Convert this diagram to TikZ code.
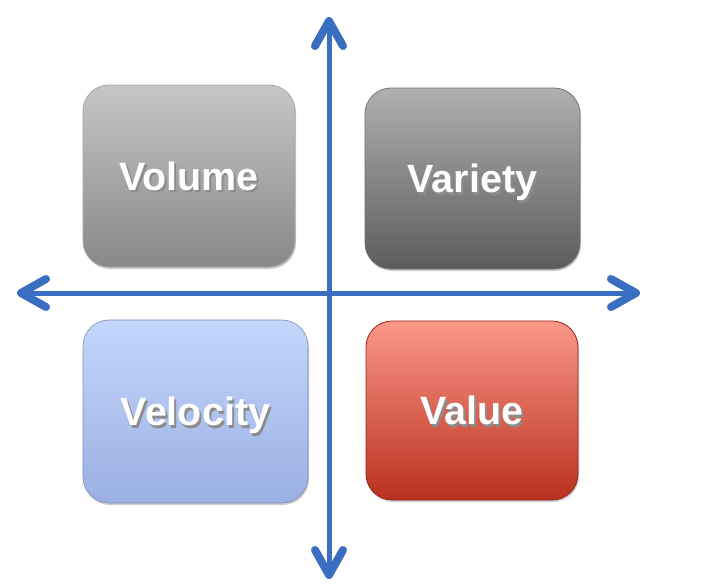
\documentclass[tikz,border=0pt]{standalone}
\usepackage{fontspec}
\setmainfont{Liberation Sans}
\usetikzlibrary{calc,shadows}
\definecolor{axisblue}{RGB}{58,110,192}
\definecolor{volTop}{RGB}{198,198,200}
\definecolor{volBot}{RGB}{136,136,138}
\definecolor{varTop}{RGB}{176,176,176}
\definecolor{varBot}{RGB}{92,92,94}
\definecolor{velTop}{RGB}{196,214,252}
\definecolor{velBot}{RGB}{154,176,226}
\definecolor{valTop}{RGB}{250,152,136}
\definecolor{valBot}{RGB}{186,48,30}
\newcommand{\shtext}[1]{\makebox[0pt][l]{\hspace{2pt}\raisebox{-2.5pt}{\textcolor{black!45}{#1}}}\textcolor{white}{#1}}
\tikzset{
  quad/.style={rectangle, rounded corners=26pt, inner sep=0pt,
    text height=28pt, text depth=0pt,
    font=\fontsize{39.5}{42}\selectfont\bfseries,
    drop shadow={shadow xshift=1pt, shadow yshift=-2pt, opacity=0.2, fill=black}},
  axisline/.style={draw=axisblue, line width=5pt},
  chevron/.style={draw=axisblue, line width=8pt, line cap=round, line join=round}
}
\begin{document}
\begin{tikzpicture}[x=1pt,y=-1pt]
\useasboundingbox[fill=white] (0,0) rectangle (701,587);
\node[quad, minimum width=212pt, minimum height=182pt, top color=volTop, bottom color=volBot, draw=black!35, line width=0.8pt] (volume) at (189,176) {\shtext{Volume}};
\node[quad, minimum width=215pt, minimum height=181pt, top color=varTop, bottom color=varBot, draw=black!55, line width=0.8pt] (variety) at (472.5,178.5) {\shtext{Variety}};
\node[quad, minimum width=225pt, minimum height=183pt, top color=velTop, bottom color=velBot, draw=velBot!80!black, line width=0.6pt] (velocity) at (195.5,411.5) {\shtext{Velocity}};
\node[quad, minimum width=212pt, minimum height=179pt, top color=valTop, bottom color=valBot, draw=valBot!80!black, line width=0.8pt] (value) at (472,410.5) {\shtext{Value}};
\coordinate (left) at (21,293);
\coordinate (right) at (636,293);
\coordinate (top) at (329,21);
\coordinate (bottom) at (329,575);
\draw[axisline] (left) -- (right);
\draw[axisline] (bottom) -- (top);
\draw[chevron] ($(left)+(25,-14)$) -- (left) -- ($(left)+(25,14)$);
\draw[chevron] ($(right)+(-25,-14)$) -- (right) -- ($(right)+(-25,14)$);
\draw[chevron] ($(top)+(-14,25)$) -- (top) -- ($(top)+(14,25)$);
\draw[chevron] ($(bottom)+(-14,-25)$) -- (bottom) -- ($(bottom)+(14,-25)$);
\end{tikzpicture}
\end{document}
